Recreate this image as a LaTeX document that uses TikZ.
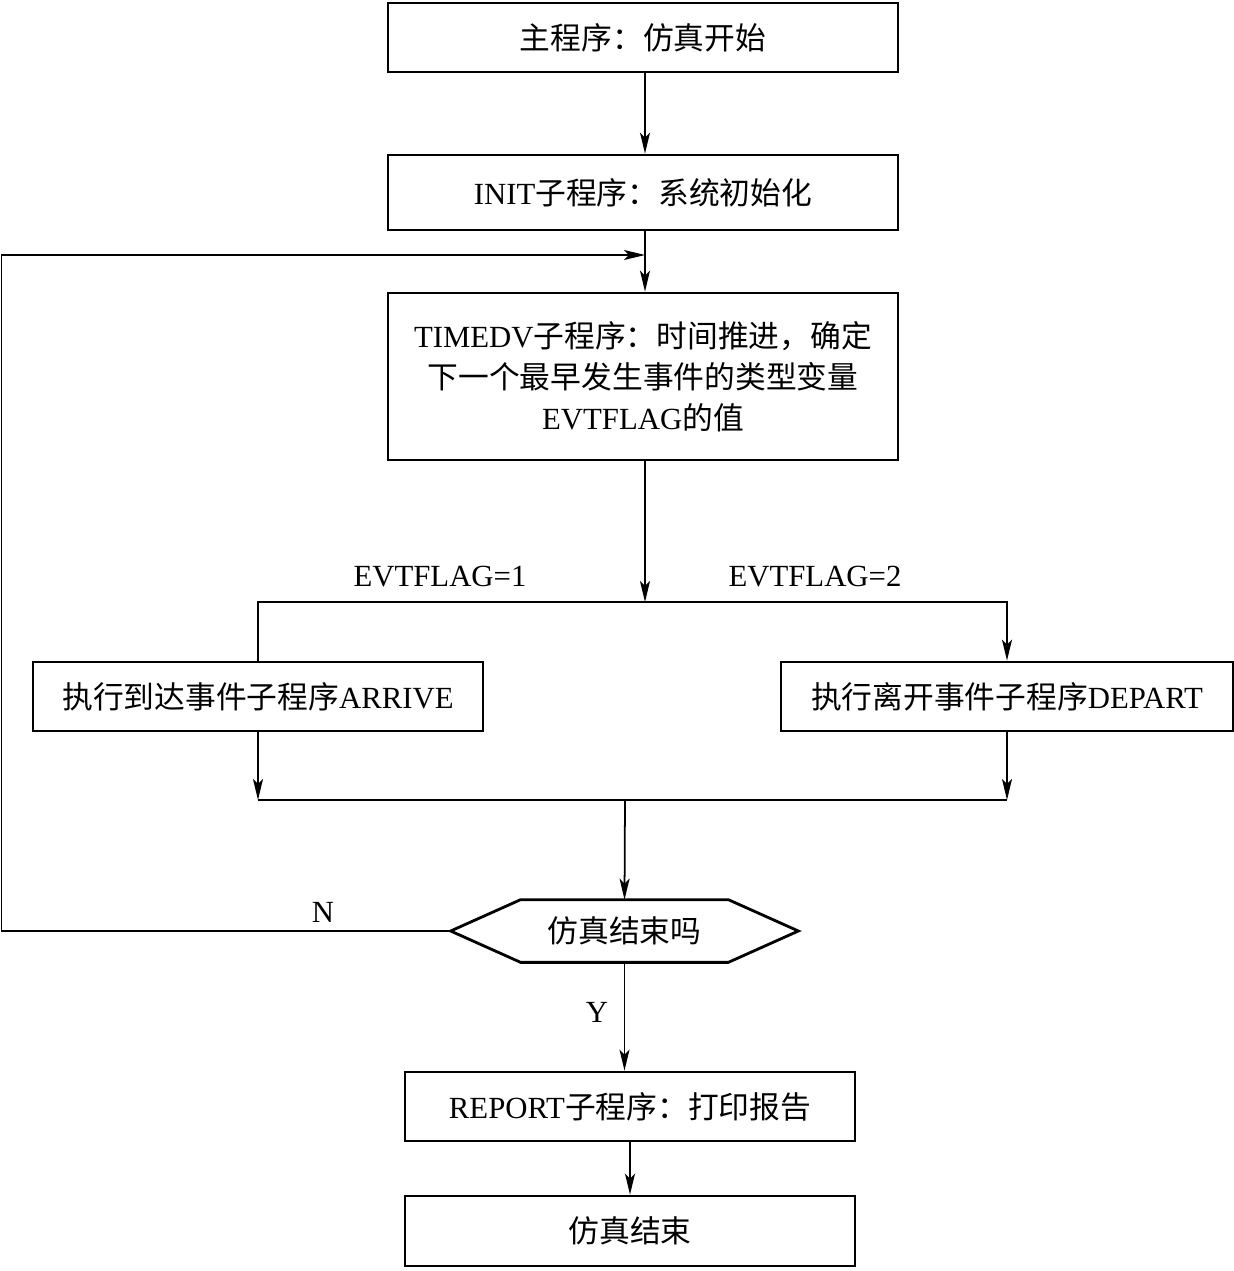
\documentclass[tikz,border=0pt]{standalone}
\usepackage{fontspec}
\setmainfont{Liberation Serif}
\newfontfamily\zh{Noto Sans CJK SC}
\usetikzlibrary{arrows.meta,positioning,calc}
\tikzset{
  basebox/.style={rectangle,draw=black,line width=1.6pt,align=center,
    font=\fontsize{17.5}{23.3}\selectfont,inner sep=0pt},
  procnode/.style={basebox,minimum width=10.2cm,minimum height=1.38cm},
  subnode/.style={basebox,minimum width=9.0cm,minimum height=1.38cm},
  decnode/.style={rectangle,align=center,font=\fontsize{17.5}{23.3}\selectfont,
    minimum width=6.94cm,minimum height=1.24cm,inner sep=0pt},
  lbl/.style={font=\fontsize{17.5}{23.3}\selectfont,inner sep=0pt},
  line/.style={line width=1pt,color=black},
  arr/.style={line,-{Stealth[length=0.42cm,width=0.2cm,inset=0.1cm]}}
}
\begin{document}
\begin{tikzpicture}
  \useasboundingbox (0,0) rectangle (24.68,-25.42);
  % main trunk
  \node[procnode] (start) at (12.86,-0.75) {{\zh 主程序：仿真开始}};
  \node[procnode,minimum height=1.5cm] (init) at (12.86,-3.85) {INIT{\zh 子程序：系统初始化}};
  \node[procnode,minimum height=3.34cm] (timedv) at (12.86,-7.53)
    {TIMEDV{\zh 子程序：时间推进，确定}\\{\zh 下一个最早发生事件的类型变量}\\EVTFLAG{\zh 的值}};
  % event branches
  \node[subnode] (arrive) at (5.16,-13.93) {{\zh 执行到达事件子程序}ARRIVE};
  \node[subnode,minimum width=9.04cm] (depart) at (20.14,-13.93) {{\zh 执行离开事件子程序}DEPART};
  \node[decnode] (dec) at (12.49,-18.62) {{\zh 仿真结束吗}};
  \draw[basebox] (dec.west) -- ([xshift=1.4cm]dec.north west) -- ([xshift=-1.4cm]dec.north east)
    -- (dec.east) -- ([xshift=-1.4cm]dec.south east) -- ([xshift=1.4cm]dec.south west) -- cycle;
  \node[subnode] (report) at (12.6,-22.13) {REPORT{\zh 子程序：打印报告}};
  \node[subnode,minimum height=1.4cm] (finish) at (12.6,-24.62) {{\zh 仿真结束}};
  % junctions
  \coordinate (loopin) at (12.9,-5.1);
  \coordinate (split) at (12.9,-12.04);
  \coordinate (join) at (12.5,-16.0);
  \coordinate (lft) at (0.03,-18.62);
  % connectors
  \draw[arr] (start.south -| loopin) -- (init.north -| loopin);
  \draw[arr] (init.south -| loopin) -- (timedv.north -| loopin);
  \draw[arr] (timedv.south -| split) -- (split);
  \draw[line] (split) -| (arrive.north);
  \draw[arr] (split) -| (depart.north);
  \draw[arr] (arrive.south) -- (arrive.south |- join);
  \draw[arr] (depart.south) -- (depart.south |- join);
  \draw[line] (arrive.south |- join) -- (depart.south |- join);
  \draw[arr] (join) -- (dec.north);
  \draw[arr] (dec.west) -- (lft) |- (loopin);
  \draw[arr] (dec.south) -- (dec.south |- report.north);
  \draw[arr] (report) -- (finish);
  % labels
  \node[lbl] at (8.8,-11.54) {EVTFLAG=1};
  \node[lbl] at (16.3,-11.54) {EVTFLAG=2};
  \node[lbl] at (6.46,-18.24) {N};
  \node[lbl] at (11.94,-20.24) {Y};
\end{tikzpicture}
\end{document}
